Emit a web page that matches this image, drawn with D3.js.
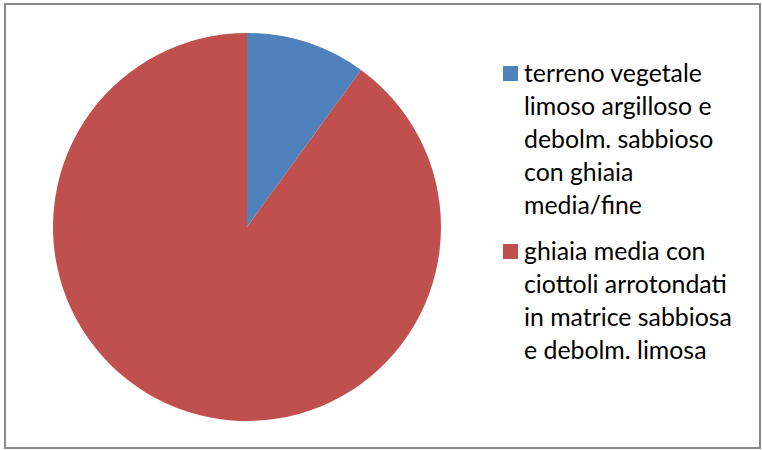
<!DOCTYPE html>
<html><head><meta charset="utf-8">
<script src="https://cdn.jsdelivr.net/npm/d3@7"></script>
<style>body{margin:0;background:#fff}svg{display:block}</style>
</head><body>
<svg id="c" width="762" height="450"></svg>
<script>
const categories = ["terreno vegetale limoso argilloso e debolm. sabbioso con ghiaia media/fine",
                    "ghiaia media con ciottoli arrotondati in matrice sabbiosa e debolm. limosa"];
const legendLines = [["terreno vegetale","limoso argilloso e","debolm. sabbioso","con ghiaia","media/fine"],
                     ["ghiaia media con","ciottoli arrotondati","in matrice sabbiosa","e debolm. limosa"]];
const values = [10, 90];
const colors = ["#4F81BD", "#C0504D"];

const svg = d3.select("#c");
svg.append("rect").attr("x",5).attr("y",4).attr("width",755).attr("height",444)
  .attr("fill","#fff").attr("stroke","#8a8a8a").attr("stroke-width",2);

const cx = 247, cy = 227, r = 194;
const pie = d3.pie().sort(null).value(d=>d)(values);
const arc = d3.arc().innerRadius(0).outerRadius(r);
svg.append("g").attr("transform",`translate(${cx},${cy})`)
  .selectAll("path").data(pie).join("path")
  .attr("d",arc).attr("fill",(d,i)=>colors[i]);

const font = "Lato, 'Open Sans', sans-serif";
// fit font size so longest line width matches
const probe = svg.append("text").attr("font-family",font).attr("font-size",100).text("in matrice sabbiosa");
const w100 = probe.node().getComputedTextLength(); probe.remove();
const fs = 100*208/w100;

const lg = svg.append("g");
const starts = [82, 260];
const lh = 33;
legendLines.forEach((lines,i)=>{
  lg.append("rect").attr("x",503).attr("y",starts[i]-16).attr("width",15).attr("height",15).attr("fill",colors[i]);
  const t = lg.append("text").attr("font-family",font).attr("font-size",fs).attr("fill","#000");
  lines.forEach((s,j)=>t.append("tspan").attr("x",524).attr("y",starts[i]+j*lh).text(s));
});
</script>
</body></html>
